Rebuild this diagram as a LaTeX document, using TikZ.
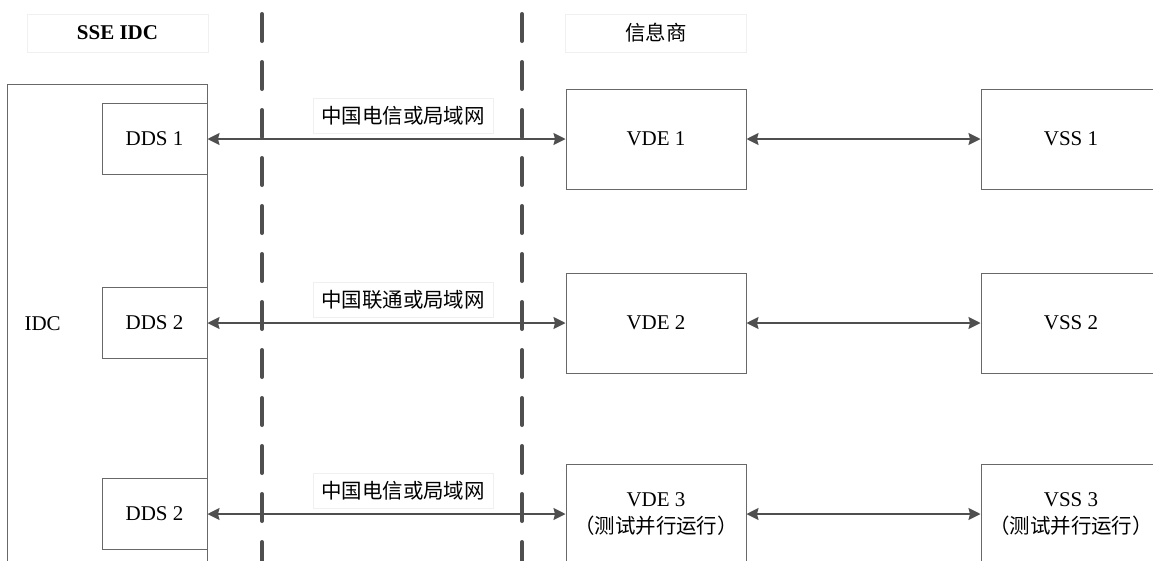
\documentclass[tikz,border=0pt]{standalone}
\usepackage{fontspec}
\setmainfont{Liberation Serif}
\newfontfamily\cjk{Noto Sans CJK SC}[Scale=0.975]
\usetikzlibrary{arrows.meta, positioning}
\definecolor{edgegray}{HTML}{4F4F4F}
\definecolor{boxgray}{HTML}{686868}
\tikzstyle{arrow} = [draw=edgegray, line width=1.6pt, {Stealth[length=12pt,width=12pt,inset=1.5pt]}-{Stealth[length=12pt,width=12pt,inset=1.5pt]}]
\tikzstyle{divider} = [draw=edgegray, line width=4pt, line cap=round, dash pattern=on 27pt off 21pt]

\begin{document}
\begin{tikzpicture}[x=1pt, y=-1pt, node distance=415pt, font=\fontsize{21}{27}\selectfont,
  main/.style = {draw=boxgray, line width=1pt, rectangle, minimum width=180pt, minimum height=100pt, inner sep=0pt, align=center},
  dds/.style = {main, minimum width=105pt, minimum height=71pt},
  head/.style = {draw=black!6, line width=1pt, minimum width=181pt, minimum height=38pt, inner sep=0pt},
  net/.style = {draw=black!6, fill=white, minimum width=180pt, minimum height=35pt, inner sep=0pt, font=\fontsize{21}{27}\selectfont\cjk}]
\path[use as bounding box] (0,0) rectangle (1153,560);
\clip (0,0) rectangle (1153,560);

% headers
\node[head, font=\fontsize{21}{27}\selectfont\bfseries] (hidc) at (117.5,33) {SSE IDC};
\node[head, font=\fontsize{21}{27}\selectfont\cjk] (hvendor) at (656,33) {信息商};

% IDC side
\node[main, minimum width=200pt, minimum height=479pt, anchor=north west] (idc) at (7,84) {};
\node[anchor=west] (idclbl) at ([xshift=14pt]idc.west) {IDC};
\node[dds] (dds1) at (154.5,139) {DDS 1};
\node[dds] (dds2) at (154.5,323) {DDS 2};
\node[dds] (dds3) at (154.5,514) {DDS 2};

% vendor side
\node[main] (vde1) at (656,139) {VDE 1};
\node[main] (vde2) at (656,323) {VDE 2};
\node[main] (vde3) at (656,514) {VDE 3\\{\cjk （测试并行运行）}};
\node[main] (vss1) [right of=vde1] {VSS 1};
\node[main] (vss2) [right of=vde2] {VSS 2};
\node[main] (vss3) [right of=vde3] {VSS 3\\{\cjk （测试并行运行）}};

% boundaries
\draw[divider] (262,14) -- (262,590);
\draw[divider] (522,14) -- (522,590);

\draw[arrow] (dds1) -- (vde1);
\draw[arrow] (dds2) -- (vde2);
\draw[arrow] (dds3) -- (vde3);
\draw[arrow] (vde1) -- (vss1);
\draw[arrow] (vde2) -- (vss2);
\draw[arrow] (vde3) -- (vss3);

\node[net] (lan1) at (403,116) {中国电信或局域网};
\node[net] (lan2) at (403,300) {中国联通或局域网};
\node[net] (lan3) at (403,491) {中国电信或局域网};
\end{tikzpicture}
\end{document}
